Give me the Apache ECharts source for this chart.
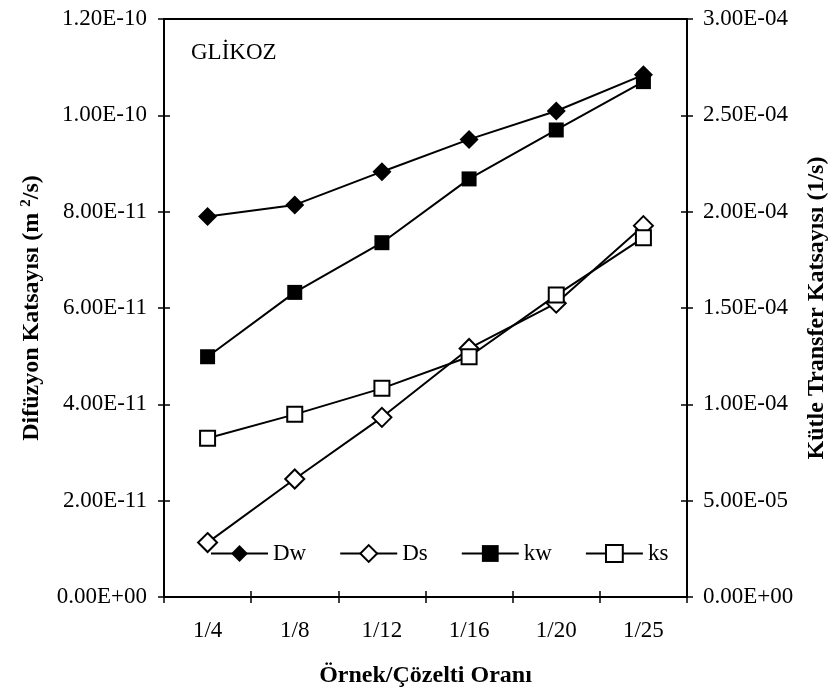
<!DOCTYPE html>
<html>
<head>
<meta charset="utf-8">
<script src="https://cdn.jsdelivr.net/npm/echarts@6/dist/echarts.min.js"></script>
<style>
  html, body { margin: 0; padding: 0; background: #fff; }
  #box { width: 835px; height: 688px; }
</style>
</head>
<body>
<div id="box"></div>
<script>
// categories (sample / solution ratio)
let categories = ["1/4", "1/8", "1/12", "1/16", "1/20", "1/25"];
// diffusion coefficients (m2/s), left axis
let Dw = [7.90e-11, 8.14e-11, 8.83e-11, 9.50e-11, 1.009e-10, 1.084e-10];
let Ds = [1.13e-11, 2.45e-11, 3.73e-11, 5.16e-11, 6.10e-11, 7.71e-11];
// mass transfer coefficients (1/s), right axis
let kw = [1.247e-4, 1.581e-4, 1.839e-4, 2.170e-4, 2.424e-4, 2.675e-4];
let ks = [0.824e-4, 0.948e-4, 1.083e-4, 1.247e-4, 1.567e-4, 1.865e-4];

let font = "'Liberation Serif', 'Times New Roman', serif";

function sci(v) {
  let s = Number(v).toExponential(2).toUpperCase();
  return s.replace(/E([+-])(\d)$/, "E$10$2");
}

let chart = echarts.init(document.getElementById("box"), null, { renderer: "canvas" });

function mkSeries(name, data, axis, symbol, fill) {
  return {
    name: name,
    type: "line",
    yAxisIndex: axis,
    data: data,
    symbol: symbol,
    symbolSize: symbol === "diamond" ? 19 : 15,
    showAllSymbol: true,
    lineStyle: { color: "#000", width: 2 },
    itemStyle: { color: fill, borderColor: "#000", borderWidth: fill === "#000" ? 0 : 2 },
    z: 3
  };
}

let tickOut = { show: true, inside: false, length: 6, lineStyle: { color: "#000", width: 1.5 } };
let tickIn = { show: true, inside: true, length: 6, lineStyle: { color: "#000", width: 1.5 } };
let axLine = { show: true, lineStyle: { color: "#000", width: 2 } };
let nameStyle = { fontFamily: font, fontSize: 24, fontWeight: "bold", color: "#000" };

let option = {
  backgroundColor: "#fff",
  animation: false,
  grid: {
    left: 164, right: 148, top: 19, bottom: 91,
    outerBoundsMode: "none", containLabel: false,
    show: true, borderColor: "#000", borderWidth: 2
  },
  graphic: [{
    type: "text", left: 191, top: 41,
    style: { text: "GLİKOZ", font: "23px " + font, fill: "#000" }
  }],
  legend: {
    left: 205, top: 537,
    itemWidth: 57, itemHeight: 21, itemGap: 33,
    textStyle: { fontFamily: font, fontSize: 23, color: "#000" },
    data: ["Dw", "Ds", "kw", "ks"]
  },
  xAxis: [{
    type: "category",
    data: categories,
    boundaryGap: true,
    axisLine: axLine,
    axisTick: tickOut,
    axisLabel: { fontFamily: font, fontSize: 23, color: "#000", margin: 22 },
    name: "Örnek/Çözelti Oranı",
    nameLocation: "middle",
    nameGap: 67,
    nameTextStyle: nameStyle
  }, {
    type: "category",
    data: categories,
    position: "bottom",
    boundaryGap: true,
    axisLine: { show: false },
    axisTick: tickIn,
    axisLabel: { show: false }
  }],
  yAxis: [{
    type: "value",
    position: "left",
    min: 0, max: 1.2e-10, interval: 2e-11,
    splitLine: { show: false },
    axisLine: axLine,
    axisTick: tickOut,
    axisLabel: { fontFamily: font, fontSize: 23, color: "#000", margin: 17, formatter: sci },
    name: "Difüzyon Katsayısı (m {sup|2}/s)",
    nameLocation: "middle",
    nameRotate: 90,
    nameGap: 120,
    nameTextStyle: Object.assign({}, nameStyle, {
      rich: { sup: { fontFamily: font, fontSize: 15, fontWeight: "bold", color: "#000", verticalAlign: "top", padding: [0, 0, 10, 0] } }
    })
  }, {
    type: "value",
    position: "right",
    min: 0, max: 3e-4, interval: 5e-5,
    splitLine: { show: false },
    axisLine: axLine,
    axisTick: tickOut,
    axisLabel: { fontFamily: font, fontSize: 23, color: "#000", margin: 16, formatter: sci },
    name: "Kütle Transfer Katsayısı (1/s)",
    nameLocation: "middle",
    nameRotate: 90,
    nameGap: 118,
    nameTextStyle: nameStyle
  }, {
    type: "value",
    position: "left",
    min: 0, max: 1.2e-10, interval: 2e-11,
    splitLine: { show: false },
    axisLine: { show: false },
    axisTick: tickIn,
    axisLabel: { show: false }
  }, {
    type: "value",
    position: "right",
    min: 0, max: 3e-4, interval: 5e-5,
    splitLine: { show: false },
    axisLine: { show: false },
    axisTick: tickIn,
    axisLabel: { show: false }
  }],
  series: [
    mkSeries("Dw", Dw, 0, "diamond", "#000"),
    mkSeries("Ds", Ds, 0, "diamond", "#fff"),
    mkSeries("kw", kw, 1, "rect", "#000"),
    mkSeries("ks", ks, 1, "rect", "#fff")
  ]
};

chart.setOption(option);
</script>
</body>
</html>
